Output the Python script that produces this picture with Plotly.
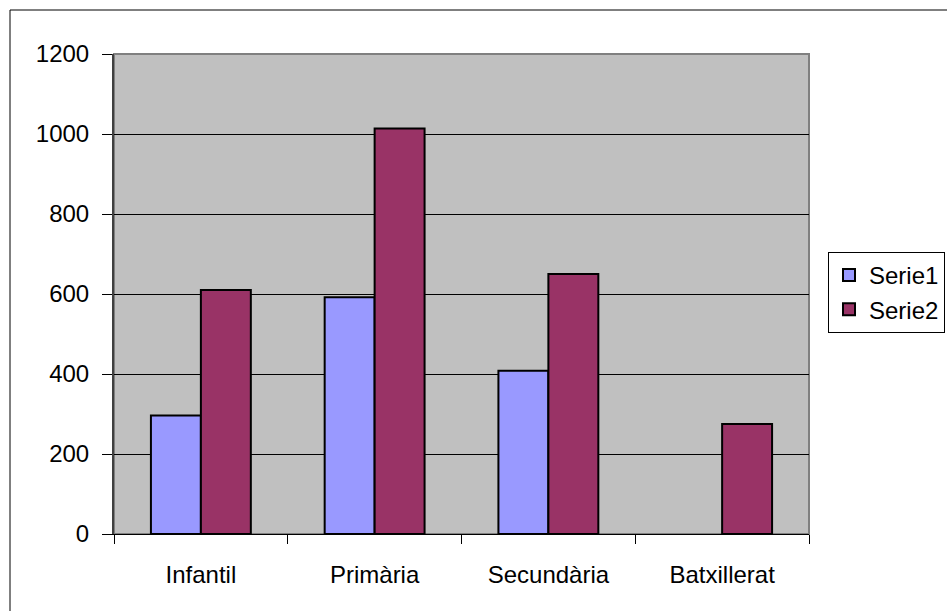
import plotly.graph_objects as go

categories = ["Infantil", "Primària", "Secundària", "Batxillerat"]
serie1 = [296, 592, 408, None]
serie2 = [610, 1014, 650, 275]
series_names = ["Serie1", "Serie2"]
y_ticks = [0, 200, 400, 600, 800, 1000, 1200]

W, H = 947, 611
L, R, T, B = 114, 947 - 809, 54, 611 - 534
pw, ph = W - L - R, H - T - B

def px_to_paper_x(x):
    return (x - L) / pw

def px_to_paper_y(y):
    return (H - B - y) / ph

FONT = "Liberation Sans, Arial, sans-serif"

fig = go.Figure()
fig.add_trace(go.Bar(x=categories, y=serie1, name=series_names[0],
                     marker=dict(color="#9999FF", line=dict(color="black", width=2))))
fig.add_trace(go.Bar(x=categories, y=serie2, name=series_names[1],
                     marker=dict(color="#993366", line=dict(color="black", width=2))))

fig.update_layout(
    width=W, height=H,
    margin=dict(l=L, r=R, t=T, b=B, autoexpand=False),
    paper_bgcolor="white",
    plot_bgcolor="#C0C0C0",
    barmode="group",
    bargap=0.425,
    bargroupgap=0,
    font=dict(family=FONT, size=24, color="black"),
    showlegend=True,
    legend=dict(
        x=px_to_paper_x(828), y=px_to_paper_y(252),
        xanchor="left", yanchor="top",
        bgcolor="white", bordercolor="black", borderwidth=1,
        font=dict(family=FONT, size=24, color="black"),
        itemwidth=30,
        tracegroupgap=0,
    ),
    xaxis=dict(
        showline=True, linecolor="black", linewidth=1,
        ticks="outside", tickson="boundaries", ticklen=9, tickcolor="black",
        ticklabelstandoff=19,
        showgrid=False, mirror=False,
    ),
    yaxis=dict(
        range=[0, 1200], tickvals=y_ticks,
        showline=True, linecolor="#404040", linewidth=2,
        ticks="outside", ticklen=10, tickcolor="black",
        ticklabelstandoff=8,
        showgrid=True, gridcolor="black", gridwidth=1,
        zeroline=False,
    ),
    shapes=[
        dict(type="rect", xref="paper", yref="paper", x0=0, x1=1, y0=0, y1=1,
             line=dict(color="#808080", width=2), layer="below"),
        dict(type="rect", xref="paper", yref="paper",
             x0=px_to_paper_x(10), x1=px_to_paper_x(960),
             y0=px_to_paper_y(625), y1=px_to_paper_y(10),
             line=dict(color="black", width=1)),
    ],
)

fig.write_html("out.html",
               config={"displayModeBar": False},
               post_script="document.body.style.margin='0';document.body.style.overflow='hidden';")
